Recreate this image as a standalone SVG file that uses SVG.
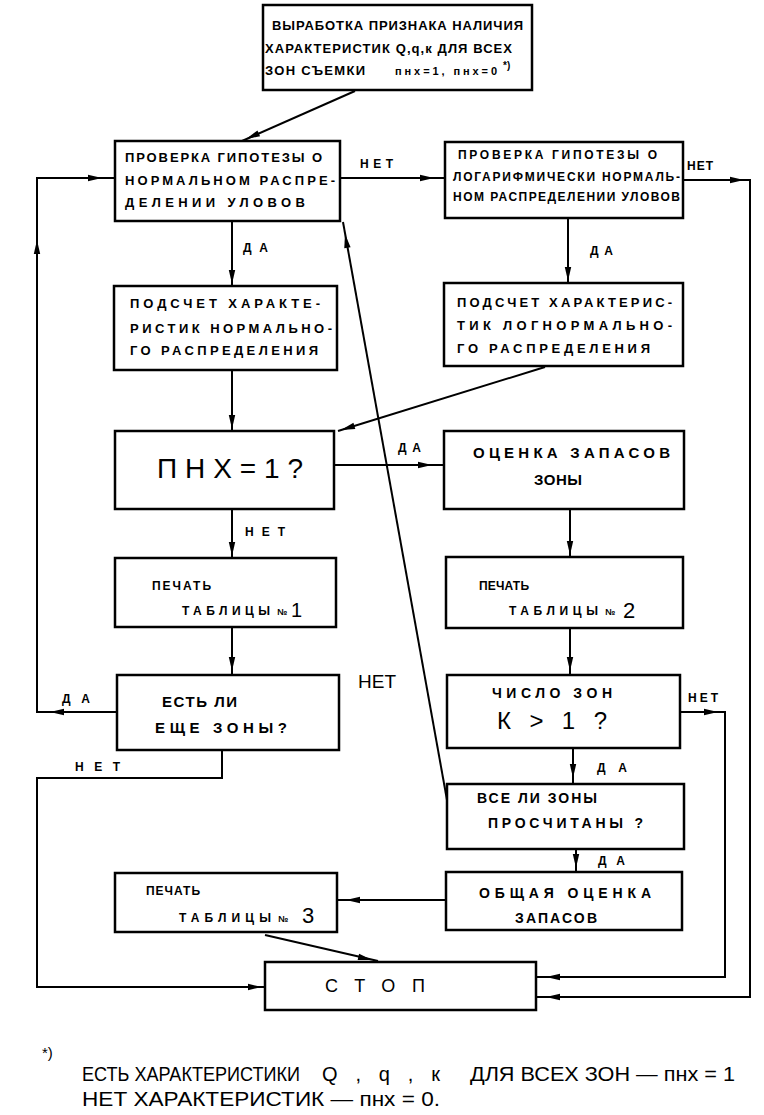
<svg xmlns="http://www.w3.org/2000/svg" xmlns:xlink="http://www.w3.org/1999/xlink" width="764" height="1115" viewBox="0 0 764 1115">
<style>
.box{fill:#fff;stroke:#000;stroke-width:2.5}
.ln{fill:none;stroke:#000;stroke-width:2}
.t{font-family:"Liberation Sans","DejaVu Sans",Arial,sans-serif;font-weight:bold;fill:#000;font-size:13px}
.m{font-size:15px}
.s{font-size:12px}
.big{font-weight:normal;font-size:28px}
.lb{font-family:"Liberation Sans","DejaVu Sans",Arial,sans-serif;font-weight:bold;fill:#000;font-size:12px}
.fn{font-family:"Liberation Sans","DejaVu Sans",Arial,sans-serif;fill:#000;font-size:20px}
</style>
<defs>
<path id="ah" d="M0,0 L-14,-3.2 L-14,3.2 Z" fill="#000"/>
</defs>
<rect width="764" height="1115" fill="#fff"/>

<g id="connectors">
<path class="ln" d="M355,91 L242,141"/>
<use xlink:href="#ah" transform="translate(246,139) rotate(156)"/>
<path class="ln" d="M340,178 L445,178"/>
<use xlink:href="#ah" transform="translate(434,178)"/>
<path class="ln" d="M683,180 L750,180 L750,997 L536,997"/>
<use xlink:href="#ah" transform="translate(744,180)"/>
<use xlink:href="#ah" transform="translate(546,997) rotate(180)"/>
<path class="ln" d="M117,712 L37,712 L37,178 L115,178"/>
<use xlink:href="#ah" transform="translate(50,712) rotate(180)"/>
<use xlink:href="#ah" transform="translate(37,240) rotate(-90)"/>
<use xlink:href="#ah" transform="translate(102,178)"/>
<path class="ln" d="M232,221 L232,286"/>
<use xlink:href="#ah" transform="translate(232,284) rotate(90)"/>
<path class="ln" d="M568,218 L568,283"/>
<use xlink:href="#ah" transform="translate(568,281) rotate(90)"/>
<path class="ln" d="M232,370 L232,431"/>
<use xlink:href="#ah" transform="translate(232,429) rotate(90)"/>
<path class="ln" d="M545,367 L338,431"/>
<use xlink:href="#ah" transform="translate(341,430) rotate(163)"/>
<path class="ln" d="M334,465 L444,465"/>
<use xlink:href="#ah" transform="translate(432,465)"/>
<path class="ln" d="M232,509 L232,558"/>
<use xlink:href="#ah" transform="translate(232,556) rotate(90)"/>
<path class="ln" d="M570,509 L570,557"/>
<use xlink:href="#ah" transform="translate(570,555) rotate(90)"/>
<path class="ln" d="M232,627 L232,675"/>
<use xlink:href="#ah" transform="translate(232,671) rotate(90)"/>
<path class="ln" d="M570,628 L570,675"/>
<use xlink:href="#ah" transform="translate(570,671) rotate(90)"/>
<path class="ln" d="M222,750 L222,778 L37,778 L37,987 L265,987"/>
<use xlink:href="#ah" transform="translate(262,987)"/>
<path class="ln" d="M680,712 L725,712 L725,977 L536,977"/>
<use xlink:href="#ah" transform="translate(718,712)"/>
<use xlink:href="#ah" transform="translate(546,977) rotate(180)"/>
<path class="ln" d="M573,748 L573,784"/>
<use xlink:href="#ah" transform="translate(573,778) rotate(90)"/>
<path class="ln" d="M576,849 L576,872"/>
<use xlink:href="#ah" transform="translate(576,868) rotate(90)"/>
<path class="ln" d="M446,900 L337,900"/>
<use xlink:href="#ah" transform="translate(346,900) rotate(180)"/>
<path class="ln" d="M265,935 L378,961"/>
<use xlink:href="#ah" transform="translate(372,960) rotate(13)"/>
<path class="ln" d="M447,800 L343,222"/>
<use xlink:href="#ah" transform="translate(345,234) rotate(-100)"/>
<text class="lb" x="360" y="168" textLength="33" lengthAdjust="spacing">НЕТ</text>
<text class="lb" x="687" y="170" textLength="26" lengthAdjust="spacing">НЕТ</text>
<text class="lb" x="243" y="252" textLength="25" lengthAdjust="spacing">ДА</text>
<text class="lb" x="590" y="255" textLength="23" lengthAdjust="spacing">ДА</text>
<text class="lb" x="398" y="452" textLength="23" lengthAdjust="spacing">ДА</text>
<text class="lb" x="245" y="536" textLength="40" lengthAdjust="spacing">НЕТ</text>
<text class="lb" x="62" y="703" textLength="28" lengthAdjust="spacing">ДА</text>
<text class="fn" x="358" y="688" style="font-size:18px" textLength="38" lengthAdjust="spacingAndGlyphs">НЕТ</text>
<text class="lb" x="75" y="771" textLength="45" lengthAdjust="spacing">НЕТ</text>
<text class="lb" x="688" y="702" textLength="30" lengthAdjust="spacing">НЕТ</text>
<text class="lb" x="597" y="772" textLength="30" lengthAdjust="spacing">ДА</text>
<text class="lb" x="598" y="865" textLength="27" lengthAdjust="spacing">ДА</text>
</g>

<g id="n1">
<rect class="box" x="263" y="5" width="269" height="85"/>
<text class="t" x="272" y="30" textLength="251" lengthAdjust="spacing">ВЫРАБОТКА ПРИЗНАКА НАЛИЧИЯ</text>
<text class="t" x="265" y="53" textLength="247" lengthAdjust="spacing">ХАРАКТЕРИСТИК Q,q,к ДЛЯ ВСЕХ</text>
<text class="t" x="265" y="75" textLength="100" lengthAdjust="spacing">ЗОН СЪЕМКИ</text>
<text class="t" x="395" y="75" style="font-size:11px" textLength="102" lengthAdjust="spacing">пнх=1, пнх=0</text>
<text class="t" x="503" y="69" style="font-size:10px">*)</text>
</g>

<g id="n2">
<rect class="box" x="115" y="141" width="225" height="80"/>
<text class="t" x="125" y="162" textLength="197" lengthAdjust="spacing">ПРОВЕРКА ГИПОТЕЗЫ О</text>
<text class="t" x="125" y="185" textLength="210" lengthAdjust="spacing">НОРМАЛЬНОМ РАСПРЕ-</text>
<text class="t" x="125" y="207" textLength="180" lengthAdjust="spacing">ДЕЛЕНИИ УЛОВОВ</text>
</g>

<g id="n3">
<rect class="box" x="445" y="142" width="238" height="76"/>
<text class="t" x="458" y="159" style="font-size:12px" textLength="199" lengthAdjust="spacing">ПРОВЕРКА ГИПОТЕЗЫ О</text>
<text class="t" x="453" y="181" style="font-size:12px" textLength="227" lengthAdjust="spacing">ЛОГАРИФМИЧЕСКИ НОРМАЛЬ-</text>
<text class="t" x="453" y="201" style="font-size:12px" textLength="227" lengthAdjust="spacing">НОМ РАСПРЕДЕЛЕНИИ УЛОВОВ</text>
</g>

<g id="n4">
<rect class="box" x="114" y="286" width="223" height="84"/>
<text class="t" x="130" y="308" textLength="190" lengthAdjust="spacing">ПОДСЧЕТ ХАРАКТЕ-</text>
<text class="t" x="130" y="333" textLength="202" lengthAdjust="spacing">РИСТИК НОРМАЛЬНО-</text>
<text class="t" x="130" y="355" textLength="188" lengthAdjust="spacing">ГО РАСПРЕДЕЛЕНИЯ</text>
</g>

<g id="n5">
<rect class="box" x="444" y="283" width="239" height="83"/>
<text class="t" x="457" y="307" textLength="215" lengthAdjust="spacing">ПОДСЧЕТ ХАРАКТЕРИС-</text>
<text class="t" x="457" y="330" textLength="215" lengthAdjust="spacing">ТИК ЛОГНОРМАЛЬНО-</text>
<text class="t" x="457" y="353" textLength="193" lengthAdjust="spacing">ГО РАСПРЕДЕЛЕНИЯ</text>
</g>

<g id="n6">
<rect class="box" x="115" y="431" width="219" height="78"/>
<text class="t big" x="157" y="478" textLength="146" lengthAdjust="spacing">П Н Х = 1 ?</text>
</g>

<g id="n7">
<rect class="box" x="444" y="431" width="240" height="78"/>
<text class="t m" x="473" y="458" textLength="197" lengthAdjust="spacing">ОЦЕНКА ЗАПАСОВ</text>
<text class="t m" x="534" y="485" textLength="48" lengthAdjust="spacing">ЗОНЫ</text>
</g>

<g id="n8">
<rect class="box" x="115" y="558" width="221" height="69"/>
<text class="t s" x="152" y="590" textLength="59" lengthAdjust="spacing">ПЕЧАТЬ</text>
<text class="t s" x="182" y="615" textLength="88" lengthAdjust="spacing">ТАБЛИЦЫ</text>
<text class="t" x="277" y="615" style="font-size:9px">№</text>
<text class="t" x="291" y="617" style="font-size:20px;font-weight:normal">1</text>
</g>

<g id="n9">
<rect class="box" x="446" y="557" width="237" height="71"/>
<text class="t s" x="479" y="590" textLength="50" lengthAdjust="spacing">ПЕЧАТЬ</text>
<text class="t s" x="509" y="615" textLength="89" lengthAdjust="spacing">ТАБЛИЦЫ</text>
<text class="t" x="605" y="615" style="font-size:9px">№</text>
<text class="t" x="623" y="618" style="font-size:22px;font-weight:normal">2</text>
</g>

<g id="n10">
<rect class="box" x="117" y="675" width="222" height="75"/>
<text class="t m" x="162" y="707" textLength="75" lengthAdjust="spacing">ЕСТЬ ЛИ</text>
<text class="t m" x="155" y="733" textLength="132" lengthAdjust="spacing">ЕЩЕ ЗОНЫ?</text>
</g>

<g id="n11">
<rect class="box" x="447" y="675" width="233" height="73"/>
<text class="t" x="492" y="698" style="font-size:14px" textLength="120" lengthAdjust="spacing">ЧИСЛО ЗОН</text>
<text class="t" x="497" y="729" style="font-size:24px;font-weight:normal" textLength="110" lengthAdjust="spacing">К &gt; 1 ?</text>
</g>

<g id="n12">
<rect class="box" x="447" y="784" width="237" height="65"/>
<text class="t" x="477" y="803" style="font-size:14px" textLength="120" lengthAdjust="spacing">ВСЕ ЛИ ЗОНЫ</text>
<text class="t" x="488" y="828" style="font-size:14px" textLength="155" lengthAdjust="spacing">ПРОСЧИТАНЫ ?</text>
</g>

<g id="n13">
<rect class="box" x="446" y="872" width="236" height="58"/>
<text class="t" x="479" y="898" style="font-size:14px" textLength="172" lengthAdjust="spacing">ОБЩАЯ ОЦЕНКА</text>
<text class="t" x="515" y="923" style="font-size:14px" textLength="82" lengthAdjust="spacing">ЗАПАСОВ</text>
</g>

<g id="n14">
<rect class="box" x="115" y="873" width="222" height="59"/>
<text class="t s" x="146" y="895" textLength="54" lengthAdjust="spacing">ПЕЧАТЬ</text>
<text class="t s" x="179" y="922" textLength="92" lengthAdjust="spacing">ТАБЛИЦЫ</text>
<text class="t" x="278" y="922" style="font-size:9px">№</text>
<text class="t" x="302" y="923" style="font-size:22px;font-weight:normal">3</text>
</g>

<g id="stop">
<rect class="box" x="265" y="962" width="271" height="48"/>
<text class="t" x="325" y="992" style="font-size:18px;font-weight:normal" textLength="100" lengthAdjust="spacing">СТОП</text>
</g>

<g id="footnote">
<text class="fn" x="42" y="1058" style="font-size:15px">*)</text>
<text class="fn" x="82" y="1081" textLength="218" lengthAdjust="spacingAndGlyphs">ЕСТЬ ХАРАКТЕРИСТИКИ</text>
<text class="fn" x="322" y="1081" textLength="118" lengthAdjust="spacing">Q , q , к</text>
<text class="fn" x="470" y="1081" textLength="265" lengthAdjust="spacingAndGlyphs">ДЛЯ ВСЕХ ЗОН — пнх = 1</text>
<text class="fn" x="82" y="1106" textLength="358" lengthAdjust="spacingAndGlyphs">НЕТ ХАРАКТЕРИСТИК — пнх = 0.</text>
</g>
</svg>
